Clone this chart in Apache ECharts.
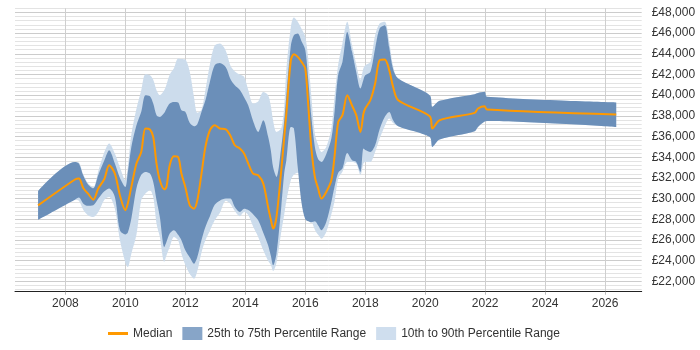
<!DOCTYPE html>
<html>
<head>
<meta charset="utf-8">
<script src="https://cdn.jsdelivr.net/npm/echarts@6/dist/echarts.min.js"></script>
<style>html,body{margin:0;padding:0;background:#fff}#c{width:700px;height:350px}</style>
</head>
<body>
<div id="c"></div>
<script>
// decimal years
var years = [2007.09,2008.32,2008.45,2008.6,2008.75,2008.93,2009.1,2009.3,2009.46,2009.65,2009.82,2010.0,2010.08,2010.2,2010.37,2010.53,2010.67,2010.82,2010.93,2011.04,2011.15,2011.3,2011.37,2011.48,2011.62,2011.76,2011.87,2012.0,2012.15,2012.29,2012.4,2012.54,2012.67,2012.82,2012.98,2013.15,2013.35,2013.5,2013.65,2013.82,2013.96,2014.1,2014.26,2014.43,2014.6,2014.76,2014.85,2014.93,2015.04,2015.2,2015.3,2015.37,2015.52,2015.62,2015.75,2015.88,2016.0,2016.1,2016.2,2016.32,2016.43,2016.54,2016.7,2016.87,2016.98,2017.1,2017.24,2017.4,2017.56,2017.7,2017.84,2017.94,2018.0,2018.17,2018.33,2018.48,2018.65,2018.8,2018.93,2019.1,2020.15,2020.24,2020.48,2021.65,2021.76,2021.98,2022.06,2026.37];
var p10 = [27950,29900,29800,28900,28400,28220,28700,29900,30160,29030,25970,23800,23380,24680,26500,29840,30500,30810,30160,27580,26300,23900,24500,25320,26290,25970,24680,23600,22700,22260,23000,24800,25970,26900,27900,28600,29800,29500,28800,28300,28700,28400,27300,26300,25000,24000,23600,23000,23800,26800,28500,29800,31800,32300,32500,32200,30500,29300,28000,27000,26500,26130,26780,28500,29800,31940,32600,33550,33550,33400,32300,33400,33550,33550,34510,35800,37000,37740,37300,37000,35960,35000,35710,36520,36930,37450,37510,36930];
var p25 = [27950,29900,30100,29500,29300,29350,30000,30700,30970,30160,26940,26540,26700,28070,31000,32300,32580,32420,31600,29840,28220,25320,25800,26620,26940,26500,25970,25000,24300,23710,24350,26000,27260,28300,29400,29800,30000,30000,29190,28710,29030,28900,28500,27900,26700,25500,24500,23550,24680,29190,32500,33710,36930,36800,33000,29500,28000,27800,27700,27800,27400,26940,27740,29680,31200,32500,32900,34400,33710,33550,32580,34840,34700,34510,35160,36700,37900,38380,37580,37000,35960,35000,35710,36520,36930,37450,37510,36930];
var median = [29350,31850,31950,31000,30500,29900,31000,31900,33230,32420,30300,28870,29500,31130,33390,34510,36780,36680,35960,33390,31770,30900,31130,33230,34100,34030,32420,31130,29350,29030,29840,32420,35000,36610,37100,36780,36700,36100,35160,34840,34360,33390,32420,32260,31450,29190,28000,27100,28220,32740,36000,38230,43380,43960,43700,43200,42580,39030,35000,32100,30970,30000,30640,31770,34190,37410,38070,40000,39000,38070,36450,38200,38710,39510,41130,43380,43450,42420,40800,39510,37970,36780,37580,38290,38710,38930,38610,38130];
var p75 = [30750,33550,33400,32200,31400,31000,32300,33700,34680,33400,32000,31130,32500,35000,37100,38400,40000,39900,39200,38070,37900,38300,38700,39200,39350,39290,38550,38400,37300,37000,37200,38400,39500,41300,42900,43100,42700,41600,40960,40500,39800,39000,37500,36450,37580,36000,34700,33000,32100,35000,37600,40000,44800,45800,45970,45200,44400,41500,38000,35000,33800,33550,34300,35800,38500,42000,43200,46120,44190,42250,40650,41500,41930,42250,44520,46450,46770,44600,42500,41610,40000,38870,39450,40100,40200,40320,39840,39290];
var p90 = [30750,33550,33500,32300,31500,31100,32700,34500,35330,34360,33000,31770,33000,36200,38700,40480,42030,41930,41500,40480,40000,40500,41000,42000,42600,43550,43500,43450,42250,39800,38300,38600,40500,43000,44800,45000,44300,42900,42300,42000,41770,40500,39200,39400,40300,40000,39000,37500,36450,36800,39000,42500,46600,47500,47100,46400,45640,43500,40000,36300,35200,34510,35000,36800,40000,43000,45000,47090,44840,43000,41500,42600,42900,43220,45800,46930,47090,45200,42800,41610,40000,38870,39450,40100,40200,40320,39840,39290];
var xTickYears = [2008,2010,2012,2014,2016,2018,2020,2022,2024,2026];
var yLabelValues = [22000,24000,26000,28000,30000,32000,34000,36000,38000,40000,42000,44000,46000,48000];
var yGridValues = [];
for (var g = 21200; g <= 48400; g += 400) yGridValues.push(g);

// rows are [value, year] so that the stacked dimension is the value
function rows(arr){ return years.map(function(y,i){ return [arr[i], y]; }); }
function diff(a,b){ return years.map(function(y,i){ return [a[i]-b[i], y]; }); }

var DARK = '#6b8fb9', LIGHT = '#ccdcec', ORANGE = '#ff9900';
var chart = echarts.init(document.getElementById('c'), null, {renderer:'canvas'});
var font = 'Liberation Sans, Arial, sans-serif';
var enc = {x:1, y:0};
chart.setOption({
  animation:false,
  textStyle:{fontFamily:font},
  grid:{left:15, right:58.3, top:8.3, bottom:58.3, containLabel:false},
  xAxis:{
    type:'value', min:2006.32, max:2027.22,
    axisLine:{show:true, lineStyle:{color:'#222', width:1}},
    axisTick:{show:true, length:3, lineStyle:{color:'#bbb'}, customValues:xTickYears},
    axisLabel:{customValues:xTickYears, color:'#333', fontSize:12, margin:6, fontFamily:font,
      formatter:function(v){ return String(Math.round(v)); }},
    splitLine:{show:true, lineStyle:{color:'#cfcfcf', width:1}}
  },
  yAxis:{
    type:'value', position:'right', min:21000, max:48400,
    axisLine:{show:false},
    axisTick:{show:false, customValues:yGridValues},
    axisLabel:{customValues:yLabelValues, color:'#333', fontSize:12, margin:10, fontFamily:font,
      formatter:function(v){ return '£' + v.toLocaleString('en-GB'); }},
    splitLine:{show:true, lineStyle:{color:['#e3e3e3','#e3e3e3','#cccccc','#e3e3e3','#e3e3e3'], width:1}}
  },
  legend:{
    left:103, top:322, itemWidth:20, itemHeight:13, itemGap:10, symbolKeepAspect:true,
    textStyle:{color:'#333', fontSize:12, fontFamily:font},
    data:[
      {name:'Median', icon:'path://M0,0L20,0L20,3L0,3Z', itemStyle:{color:ORANGE}},
      {name:'25th to 75th Percentile Range', icon:'rect', itemStyle:{color:'#87a5c8'}},
      {name:'10th to 90th Percentile Range', icon:'rect', itemStyle:{color:'#cfdeee'}}
    ]
  },
  series:[
    {name:'p10base', type:'line', stack:'outer', data:rows(p10), encode:enc, symbol:'none', smooth:0.3,
      lineStyle:{opacity:0}, silent:true},
    {name:'10th to 90th Percentile Range', type:'line', stack:'outer', data:diff(p90,p10), encode:enc, symbol:'none', smooth:0.3,
      lineStyle:{opacity:0}, itemStyle:{color:LIGHT}, areaStyle:{color:LIGHT, opacity:1}},
    {name:'p25base', type:'line', stack:'inner', data:rows(p25), encode:enc, symbol:'none', smooth:0.3,
      lineStyle:{opacity:0}, silent:true},
    {name:'25th to 75th Percentile Range', type:'line', stack:'inner', data:diff(p75,p25), encode:enc, symbol:'none', smooth:0.3,
      lineStyle:{opacity:0}, itemStyle:{color:DARK}, areaStyle:{color:DARK, opacity:1}},
    {name:'Median', type:'line', data:rows(median), encode:enc, symbol:'none', smooth:0.3,
      lineStyle:{color:ORANGE, width:2}, itemStyle:{color:ORANGE}, z:5}
  ]
});
</script>
</body>
</html>
